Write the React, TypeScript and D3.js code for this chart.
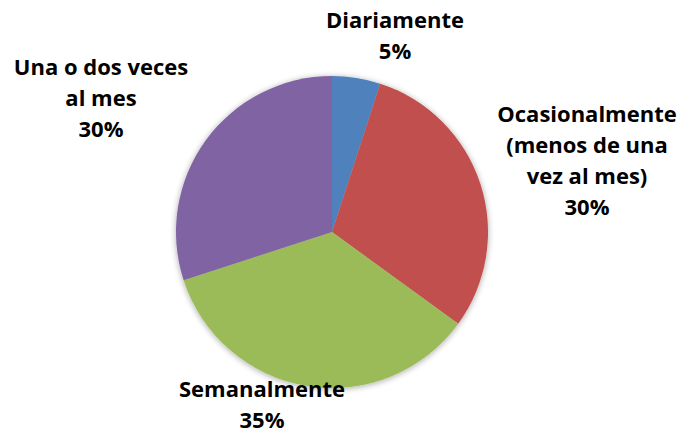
import React from 'react';
import * as d3 from 'd3';

const categories = ['Diariamente', 'Ocasionalmente (menos de una vez al mes)', 'Semanalmente', 'Una o dos veces al mes'];
const values = [5, 30, 35, 30];
const colors = ['#4F81BD', '#C0504D', '#9BBB59', '#8064A2'];
const labelLines = [
  ['Diariamente', '5%'],
  ['Ocasionalmente', '(menos de una', 'vez al mes)', '30%'],
  ['Semanalmente', '35%'],
  ['Una o dos veces', 'al mes', '30%'],
];
const labelAnchors: [number, number][] = [
  [395, 28],
  [587, 122],
  [262, 397],
  [101, 75],
];

export default function App() {
  const width = 679;
  const height = 435;
  const cx = 332;
  const cy = 232;
  const radius = 156;

  const pie = d3.pie<number>().sort(null).value((d) => d);
  const arc = d3.arc<d3.PieArcDatum<number>>().innerRadius(0).outerRadius(radius);
  const arcs = pie(values);

  return (
    <svg width={width} height={height} style={{ position: 'absolute', left: 0, top: 0 }}>
      <defs>
        <filter id="shadow" x="-20%" y="-20%" width="140%" height="140%">
          <feGaussianBlur in="SourceAlpha" stdDeviation="3" />
          <feOffset dx="0" dy="1" result="blur" />
          <feComponentTransfer>
            <feFuncA type="linear" slope="0.35" />
          </feComponentTransfer>
          <feMerge>
            <feMergeNode />
            <feMergeNode in="SourceGraphic" />
          </feMerge>
        </filter>
      </defs>
      <rect width={width} height={height} fill="#fff" />
      <g transform={`translate(${cx},${cy})`} filter="url(#shadow)">
        {arcs.map((a, i) => (
          <path key={categories[i]} d={arc(a) || ''} fill={colors[i]} />
        ))}
      </g>
      {labelLines.map((lines, i) => (
        <text
          key={i}
          x={labelAnchors[i][0]}
          y={labelAnchors[i][1]}
          textAnchor="middle"
          fontFamily="'Open Sans', sans-serif"
          fontWeight="bold"
          fontSize={22}
          fill="#000"
        >
          {lines.map((l, j) => (
            <tspan key={j} x={labelAnchors[i][0]} dy={j === 0 ? 0 : 31}>
              {l}
            </tspan>
          ))}
        </text>
      ))}
    </svg>
  );
}
